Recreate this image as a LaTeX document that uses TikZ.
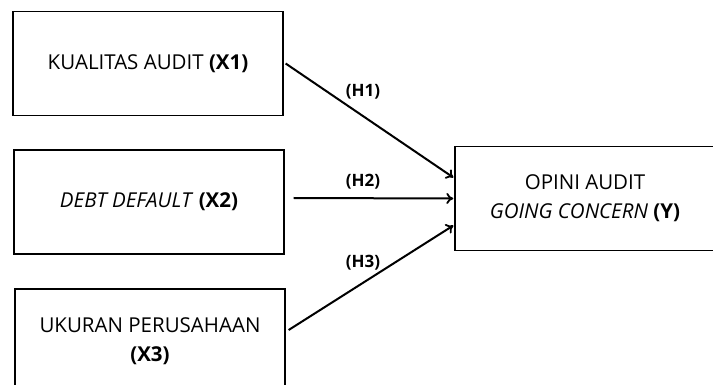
\documentclass[tikz,border=0pt]{standalone}
\usepackage{fontspec}
\setmainfont{Open Sans}
\usetikzlibrary{arrows.meta}

\tikzset{
  varbox/.style={draw, line width=1.3pt, minimum width=270pt, minimum height=104pt,
    align=center, font=\fontsize{20.5}{29}\selectfont, inner sep=0pt},
  hyp/.style={font=\fontsize{17}{20}\selectfont\bfseries},
  link/.style={line width=2pt, -{To[length=7pt, width=11pt, line width=1.8pt]}}
}

\begin{document}
\begin{tikzpicture}[x=1pt, y=-1pt]
  \useasboundingbox (0,0) rectangle (713,385);
  \clip (0,0) rectangle (713,385);

  % Independent variables
  \node[varbox] (x1) at (148,63.5) {KUALITAS AUDIT \textbf{(X1)}};
  \node[varbox] (x2) at (149,202) {\textit{DEBT DEFAULT} \textbf{(X2)}};
  \node[varbox] (x3) at (150,341) {UKURAN PERUSAHAAN\\\textbf{(X3)}};

  % Dependent variable
  \node[varbox, minimum width=260pt] (y) at (585,198.5) {OPINI AUDIT\\\textit{GOING CONCERN} \textbf{(Y)}};

  % Hypotheses
  \draw[link] ([xshift=2pt]x1.east) -- ([xshift=-1pt,yshift=21pt]y.west);
  \draw[link] ([xshift=9pt,yshift=4pt]x2.east) -- ([xshift=-1pt]y.west);
  \draw[link] ([xshift=3pt,yshift=11pt]x3.east) -- ([xshift=-1pt,yshift=-27pt]y.west);

  \node[hyp] (h1) at (363,92) {(H1)};
  \node[hyp] (h2) at (363,182) {(H2)};
  \node[hyp] (h3) at (363,263) {(H3)};
\end{tikzpicture}
\end{document}
